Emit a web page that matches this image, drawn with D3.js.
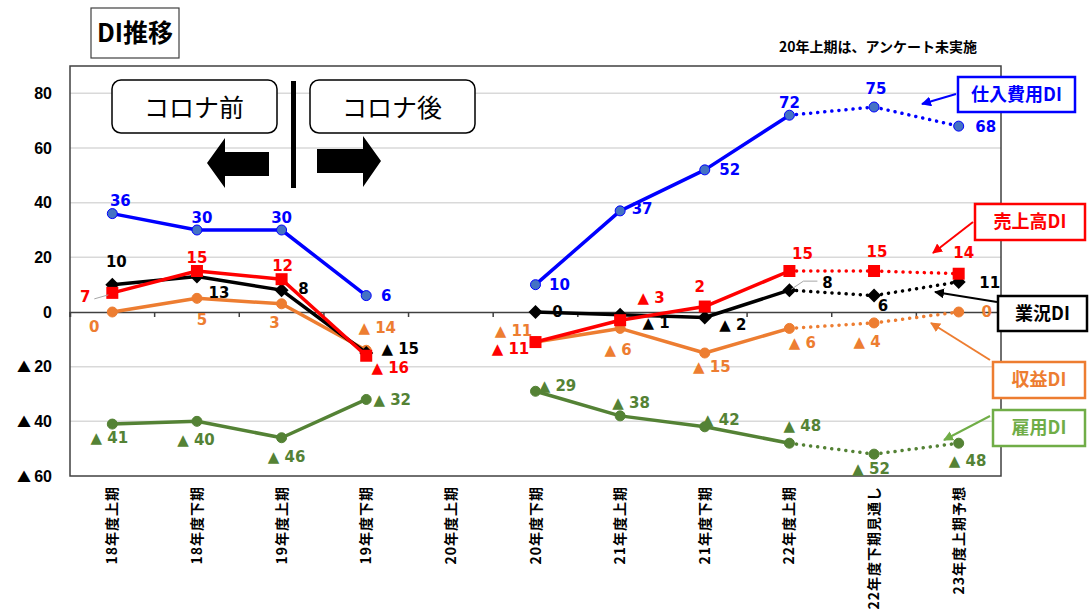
<!DOCTYPE html>
<html>
<head>
<meta charset="utf-8">
<script src="https://cdn.jsdelivr.net/npm/d3@7"></script>
<style>
  body { margin: 0; background: #fff; }
  svg { display: block; }
</style>
</head>
<body>
<div></div>
<script>
const width = 1091
const height = 616

// categories and series
const categories = ['18年度上期', '18年度下期', '19年度上期', '19年度下期', '20年度上期', '20年度下期',
  '21年度上期', '21年度下期', '22年度上期', '22年度下期見通し', '23年度上期予想']
const shiire = [36, 30, 30, 6, null, 10, 37, 52, 72, 75, 68]
const uriage = [7, 15, 12, -16, null, -11, -3, 2, 15, 15, 14]
const gyokyo = [10, 13, 8, -15, null, 0, -1, -2, 8, 6, 11]
const shueki = [0, 5, 3, -14, null, -11, -6, -15, -6, -4, 0]
const koyo = [-41, -40, -46, -32, null, -29, -38, -42, -48, -52, -48]
const yTicks = [-60, -40, -20, 0, 20, 40, 60, 80]
const lastActual = 8  // after 22年度上期 values are forecasts (dotted)

// where each value label sits relative to its point
const shiireLbl = [[8,-13],[5,-12],[0,-12],[20,0],null,[24,0],[22,-2],[25,0],[0,-12],[2,-18],[27,1]]
const uriageLbl = [[-27,4],[0,-13],[1,-13],[24,12],null,[-25,7],[31,-22],[-5,-20],[13,-17],[3,-19],[5,-21]]
const gyokyoLbl = [[4,-23],[22,16],[22,-1],[34,-4],null,[22,0],[36,8],[28,7],[38,-7],[9,10],[31,1]]
const shuekiLbl = [[-18,15],[5,21],[-7,19],[11,-23],null,[-22,-11],[-2,21],[7,14],[13,14],[-7,19],[28,0]]
const koyoLbl = [[-3,14],[-1,18],[5,19],[26,0],null,[22,-6],[11,-13],[16,-7],[13,-17],[-3,15],[9,18]]

const series = [
  { name: '雇用DI', values: koyo, lbl: koyoLbl, color: '#548235', marker: 'circle', size: 5 },
  { name: '収益DI', values: shueki, lbl: shuekiLbl, color: '#ED7D31', marker: 'circle', size: 5 },
  { name: '業況DI', values: gyokyo, lbl: gyokyoLbl, color: '#000000', marker: 'diamond', size: 7 },
  { name: '売上高DI', values: uriage, lbl: uriageLbl, color: '#FF0000', marker: 'square', size: 6 },
  { name: '仕入費用DI', values: shiire, lbl: shiireLbl, color: '#0000FF', marker: 'circle', size: 5, fill: '#4472C4' },
]

const svg = d3.select('div').append('svg')
  .attr('width', width)
  .attr('height', height)

const pLeft = 70, pRight = 1001, pTop = 66, pBottom = 476
const x = d3.scaleBand().domain(categories).range([pLeft, pRight])
const y = d3.scaleLinear().domain([-60, 90]).range([pBottom, pTop])
const cx = d => x(d) + x.bandwidth() / 2
const fmt = v => v < 0 ? '▲ ' + (-v) : '' + v

// grid
svg.append('g').selectAll('line')
  .data(yTicks.filter(t => t !== 0 && t !== -60))
  .enter().append('line')
  .attr('x1', pLeft).attr('x2', pRight)
  .attr('y1', d => y(d)).attr('y2', d => y(d))
  .attr('stroke', '#d9d9d9').attr('stroke-width', 1.5)

// frame
svg.append('rect')
  .attr('x', pLeft).attr('y', pTop)
  .attr('width', pRight - pLeft).attr('height', pBottom - pTop)
  .attr('fill', 'none').attr('stroke', '#404040').attr('stroke-width', 1.5)

// zero axis with ticks
const xAxis = d3.axisBottom(x).tickSize(5).tickFormat('')
const gx = svg.append('g').attr('transform', `translate(0,${y(0)})`).call(xAxis)
gx.select('.domain').attr('stroke', '#404040').attr('stroke-width', 1.5)
gx.selectAll('.tick line')
  .attr('transform', `translate(${-x.bandwidth() / 2},0)`)
  .attr('stroke', '#404040').attr('stroke-width', 1.5)

// y labels
const yl = svg.append('g').selectAll('text')
  .data(yTicks).enter().append('text')
  .attr('x', 52).attr('y', d => y(d))
  .attr('dy', '0.35em')
  .attr('text-anchor', 'end')
  .style('font-family', '"Liberation Sans", Arial, sans-serif')
  .style('font-weight', 'bold').style('font-size', '16px')
yl.filter(d => d < 0).append('tspan')
  .style('font-family', '"Noto Sans CJK JP", sans-serif').style('font-size', '14px')
  .text('▲ ')
yl.append('tspan').text(d => Math.abs(d))

// x labels (vertical)
svg.append('g').selectAll('text')
  .data(categories).enter().append('text')
  .attr('transform', d => `translate(${cx(d) + 5},486) rotate(-90)`)
  .attr('text-anchor', 'end')
  .style('font-family', '"Noto Sans CJK JP", sans-serif')
  .style('font-weight', 'bold').style('font-size', '14px')
  .style('letter-spacing', '1px')
  .text(d => d)

// lines
series.forEach(s => {
  const pts = s.values.map((v, i) => ({ c: categories[i], v: v, i: i }))
  const line = d3.line().defined(d => d.v !== null).x(d => cx(d.c)).y(d => y(d.v))
  svg.append('path')
    .datum(pts.slice(0, lastActual + 1))
    .attr('d', line)
    .attr('fill', 'none').attr('stroke', s.color).attr('stroke-width', 3.5)
    .attr('stroke-linejoin', 'round')
  svg.append('path')
    .datum(pts.slice(lastActual))
    .attr('d', line)
    .attr('fill', 'none').attr('stroke', s.color).attr('stroke-width', 3.5)
    .attr('stroke-dasharray', '0.1,7').attr('stroke-linecap', 'round')

  const m = svg.append('g').selectAll('path')
    .data(pts.filter(d => d.v !== null)).enter()
  if (s.marker === 'circle') {
    m.append('circle')
      .attr('cx', d => cx(d.c)).attr('cy', d => y(d.v)).attr('r', s.size)
      .attr('fill', s.fill || s.color).attr('stroke', s.color).attr('stroke-width', 1)
  } else if (s.marker === 'square') {
    m.append('rect')
      .attr('x', d => cx(d.c) - s.size).attr('y', d => y(d.v) - s.size)
      .attr('width', s.size * 2).attr('height', s.size * 2)
      .attr('fill', s.color)
  } else {
    m.append('path')
      .attr('d', d => {
        const px = cx(d.c), py = y(d.v), r = s.size
        return `M${px},${py - r}L${px + r},${py}L${px},${py + r}L${px - r},${py}Z`
      })
      .attr('fill', s.color)
  }

  svg.append('g').selectAll('text')
    .data(pts.filter(d => d.v !== null)).enter().append('text')
    .attr('x', d => cx(d.c) + s.lbl[d.i][0])
    .attr('y', d => y(d.v) + s.lbl[d.i][1])
    .attr('dy', '0.35em')
    .attr('text-anchor', 'middle')
    .attr('fill', s.color)
    .style('font-family', '"DejaVu Sans", Verdana, sans-serif')
    .style('font-weight', 'bold').style('font-size', '15px')
    .text(d => fmt(d.v))
})

// small gray leader lines
svg.append('line')
  .attr('x1', cx(categories[0]) - 18).attr('y1', y(uriage[0]) + 6)
  .attr('x2', cx(categories[0]) - 4).attr('y2', y(uriage[0]) + 2)
  .attr('stroke', '#a6a6a6').attr('stroke-width', 1)
svg.append('polyline')
  .attr('points', `${cx(categories[8]) + 2},${y(gyokyo[8]) - 1} ${cx(categories[8]) + 14},${y(gyokyo[8]) - 9} ${cx(categories[8]) + 28},${y(gyokyo[8]) - 9}`)
  .attr('fill', 'none').attr('stroke', '#a6a6a6').attr('stroke-width', 1)

// title
svg.append('rect').attr('x', 91).attr('y', 8).attr('width', 88).attr('height', 50)
  .attr('fill', '#fff').attr('stroke', '#404040').attr('stroke-width', 1.2)
svg.append('text').attr('x', 135).attr('y', 33).attr('dy', '0.35em')
  .attr('text-anchor', 'middle')
  .style('font-family', '"Noto Sans CJK JP", sans-serif')
  .style('font-weight', 'bold').style('font-size', '25px')
  .text('DI推移')

svg.append('text').attr('x', 977).attr('y', 52)
  .attr('text-anchor', 'end')
  .style('font-family', '"Noto Sans CJK JP", sans-serif')
  .style('font-weight', 'bold').style('font-size', '14px')
  .text('20年上期は、アンケート未実施')

// コロナ前 / 後
const covid = [['コロナ前', 112], ['コロナ後', 310]]
covid.forEach(c => {
  svg.append('rect').attr('x', c[1]).attr('y', 80).attr('width', 165).attr('height', 53)
    .attr('rx', 9).attr('fill', '#fff').attr('stroke', '#000').attr('stroke-width', 1.5)
  svg.append('text').attr('x', c[1] + 82).attr('y', 108).attr('dy', '0.35em')
    .attr('text-anchor', 'middle')
    .style('font-family', '"Noto Sans CJK JP", sans-serif')
    .style('font-size', '25px')
    .text(c[0])
})
svg.append('rect').attr('x', 291).attr('y', 81).attr('width', 5).attr('height', 107).attr('fill', '#000')
svg.append('path').attr('d', 'M207,163L225,138L225,152L269,152L269,176L225,176L225,188Z').attr('fill', '#000')
svg.append('path').attr('d', 'M317,149L363,149L363,136L381,161L363,187L363,173L317,173Z').attr('fill', '#000')

// legend callouts
const callouts = [
  { t: '仕入費用DI', c: '#0000FF', x: 958, y: 77, w: 117, h: 35, ax: 956, ay: 94, bx: 922, by: 104 },
  { t: '売上高DI', c: '#FF0000', x: 975, y: 204, w: 110, h: 36, ax: 973, ay: 222, bx: 933, by: 253 },
  { t: '業況DI', c: '#000000', x: 998, y: 296, w: 89, h: 35, ax: 997, ay: 302, bx: 935, by: 292 },
  { t: '収益DI', c: '#ED7D31', x: 993, y: 362, w: 92, h: 36, ax: 990, ay: 360, bx: 931, by: 323 },
  { t: '雇用DI', c: '#70AD47', x: 993, y: 410, w: 92, h: 36, ax: 990, ay: 416, bx: 944, by: 440 },
]
callouts.forEach((d, i) => {
  svg.append('defs').append('marker')
    .attr('id', 'ah' + i).attr('viewBox', '0 0 10 10').attr('refX', 9).attr('refY', 5)
    .attr('markerWidth', 5).attr('markerHeight', 5).attr('orient', 'auto')
    .append('path').attr('d', 'M0,0L10,5L0,10Z').attr('fill', d.c)
  svg.append('line').attr('x1', d.ax).attr('y1', d.ay).attr('x2', d.bx).attr('y2', d.by)
    .attr('stroke', d.c).attr('stroke-width', 2).attr('marker-end', `url(#ah${i})`)
  svg.append('rect').attr('x', d.x).attr('y', d.y).attr('width', d.w).attr('height', d.h)
    .attr('fill', '#fff').attr('stroke', d.c).attr('stroke-width', 2.5)
  svg.append('text').attr('x', d.x + d.w / 2).attr('y', d.y + d.h / 2).attr('dy', '0.35em')
    .attr('text-anchor', 'middle').attr('fill', d.c)
    .style('font-family', '"Noto Sans CJK JP", sans-serif')
    .style('font-weight', 'bold').style('font-size', '18px')
    .text(d.t)
})
</script>
</body>
</html>
